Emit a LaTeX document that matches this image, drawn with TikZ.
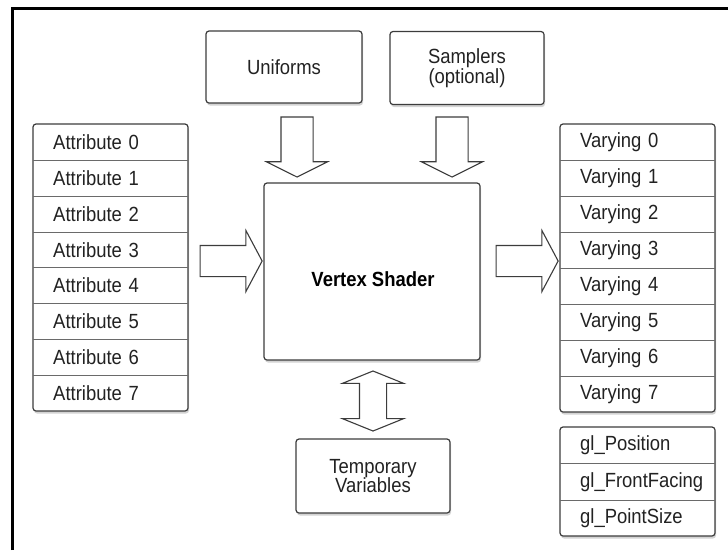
\documentclass[tikz,border=0pt]{standalone}
\usepackage{fontspec}
\setmainfont{Liberation Sans}[FakeStretch=0.9]
\usepackage{tikz}
\usetikzlibrary{positioning,shapes.arrows,shadows,calc}

\definecolor{boxgray}{HTML}{3C3C3C}
\definecolor{rowgray}{HTML}{6A6A6A}
\definecolor{txtgray}{HTML}{222222}
\newcommand{\boxfont}{\fontsize{20.5}{19.5}\selectfont}

\begin{document}
\begin{tikzpicture}[x=1pt,y=-1pt,
        box/.style={draw=boxgray, line width=1.2pt, rounded corners=3pt, fill=white,
            drop shadow={opacity=.35, shadow xshift=1pt, shadow yshift=-2.5pt},
            font=\boxfont, text=txtgray, align=center, inner sep=0pt},
        row/.style={anchor=north west, minimum width=155, text width=115, inner xsep=20,
            inner ysep=0pt, align=left, font=\boxfont, text=txtgray},
        divider/.style={draw=rowgray, line width=1pt},
        fatarrow/.style={single arrow, draw=boxgray, fill=white, line width=1.1pt},
        twoarrow/.style={double arrow, draw=boxgray, fill=white, line width=1.1pt}]
        \useasboundingbox (0,0) rectangle (728,550);

        % Frame
        \draw[line width=3pt] (12.5,550) |- (728,8.5);

        % Inputs on top
        \node[box, minimum width=156, minimum height=72] (uniforms) at (284,67) {Uniforms};
        \node[box, minimum width=154, minimum height=73] (samplers) at (467,68) {Samplers\\(optional)};

        % Shader
        \node[box, minimum width=216, minimum height=177] (shader) at (372,271.5) {};
        \node[font=\boxfont\bfseries, text=black] (shaderlabel) at (373,279) {Vertex Shader};

        % Temporaries
        \node[box, minimum width=154, minimum height=74] (temp) at (373,476) {Temporary\\Variables};

        % Attributes
        \node[box, minimum width=155, minimum height=287] (attrs) at (110.5,267.5) {};
        \foreach \i in {0,...,7}
        \node[row, minimum height=35.875] (attr\i) at (33,124+\i*35.875) {Attribute \i};
        \foreach \i in {0,...,6}
        \draw[divider] (attr\i.south west) -- (attr\i.south east);

        % Varyings
        \node[box, minimum width=155, minimum height=288] (varys) at (637.5,268) {};
        \foreach \i in {0,...,7}
        \node[row, minimum height=36] (vary\i) at (560,124+\i*36) {Varying \i};
        \foreach \i in {0,...,6}
        \draw[divider] (vary\i.south west) -- (vary\i.south east);

        % Built-ins
        \node[box, minimum width=155, minimum height=109] (builtins) at (637.5,481.5) {};
        \foreach \n/\t [count=\i from 0] in {pos/gl\_Position, face/gl\_FrontFacing, size/gl\_PointSize}
        \node[row, minimum height=36.33] (gl\n) at (560,427+\i*36.33) {\t};
        \draw[divider] (glpos.south west) -- (glpos.south east);
        \draw[divider] (glface.south west) -- (glface.south east);

        % Arrows
        \node[fatarrow, inner sep=15, single arrow head extend=15, single arrow tip angle=124,
            minimum height=62] (inarrow) at (227,261) {};
        \node[fatarrow, inner sep=15, single arrow head extend=15, single arrow tip angle=124,
            minimum height=62] (outarrow) at (523,261) {};
        \node[fatarrow, inner sep=15.5, single arrow head extend=14.5, single arrow tip angle=127,
            minimum height=60, shape border rotate=270] (uniarrow) at (297,143) {};
        \node[fatarrow, inner sep=15.5, single arrow head extend=14.5, single arrow tip angle=127,
            minimum height=60, shape border rotate=270] (samparrow) at (452,143) {};
        \node[twoarrow, inner sep=13, double arrow head extend=17, double arrow tip angle=136,
            minimum height=60, shape border rotate=90] (temparrow) at (373,401) {};

    \end{tikzpicture}
\end{document}
